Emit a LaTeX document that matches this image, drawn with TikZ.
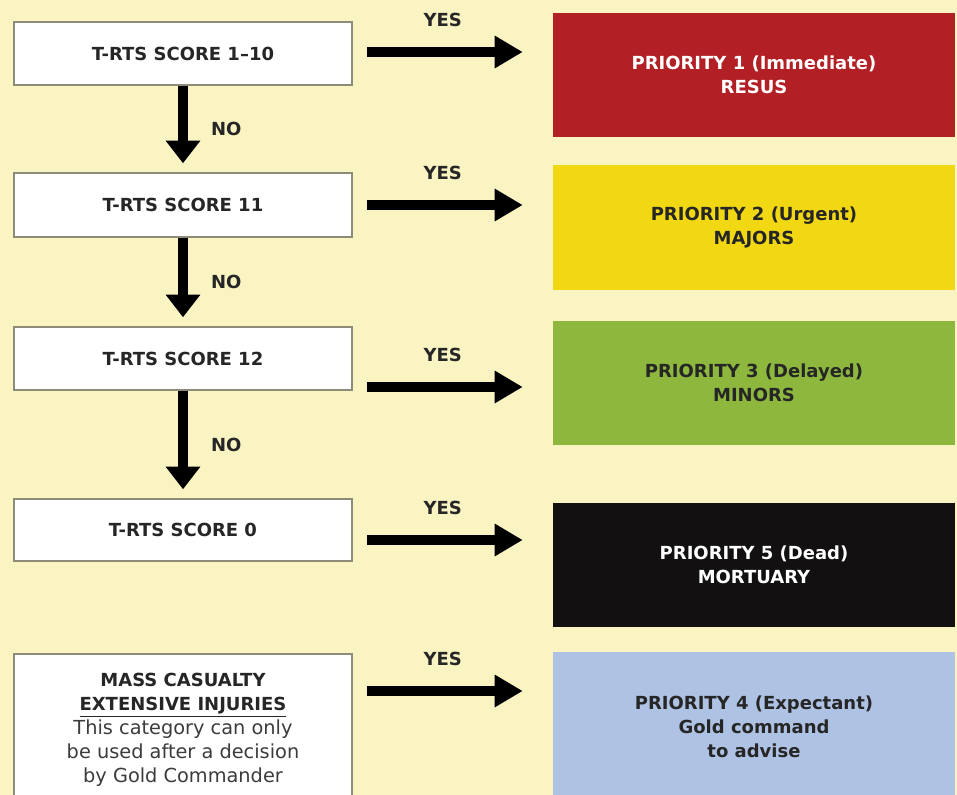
\documentclass[tikz,border=0pt]{standalone}
\usepackage{fontspec}
\setmainfont{DejaVu Sans}
\usetikzlibrary{arrows.meta}

\definecolor{paper}{HTML}{FAF4C3}
\definecolor{boxline}{HTML}{8C8C78}
\definecolor{inkdark}{HTML}{262626}
\definecolor{inkmid}{HTML}{3C3C3C}
\definecolor{resus}{HTML}{B21F24}
\definecolor{majors}{HTML}{F2D813}
\definecolor{minors}{HTML}{8DB83D}
\definecolor{mortuary}{HTML}{121010}
\definecolor{expectant}{HTML}{AEC2E4}

\newcommand{\boldtxt}{\bfseries\fontsize{13.5}{18}\selectfont}
\newcommand{\bodytxt}{\mdseries\fontsize{14.5}{18}\selectfont\color{inkmid}}

\begin{document}
\begin{tikzpicture}[x=0.75pt,y=-0.75pt,
    score/.style={draw=boxline, line width=1.1pt, fill=white, minimum width=253.5pt,
      font=\boldtxt, text=inkdark, align=center},
    prio/.style={minimum width=301.5pt, minimum height=93pt, font=\boldtxt, align=center},
    lbl/.style={font=\boldtxt, text=inkdark},
    yes/.style={line width=7.5pt, -{Triangle[length=21pt,width=23pt]},
      shorten <=11pt, shorten >=22.5pt},
    no/.style={line width=7.5pt, -{Triangle[length=17pt,width=25pt]}, shorten >=6.75pt}]

  \fill[paper] (0,0) rectangle (957,795);
  \useasboundingbox (0,0) rectangle (957,795);

  % left column: the scores
  \node[score, minimum height=47.25pt] (s1) at (183,53.5) {T-RTS SCORE 1--10};
  \node[score, minimum height=48pt] (s2) at (183,205) {T-RTS SCORE 11};
  \node[score, minimum height=47.25pt] (s3) at (183,358.5) {T-RTS SCORE 12};
  \node[score, minimum height=46.5pt] (s4) at (183,530) {T-RTS SCORE 0};
  \node[score, minimum height=114pt] (s5) at (183,730)
    {MASS CASUALTY\\ \underline{EXTENSIVE INJURIES}\\
     \bodytxt This category can only\\ \bodytxt be used after a decision\\
     \bodytxt by Gold Commander};

  % right column: the priorities
  \node[prio, fill=resus, text=white] (p1) at (754,75) {PRIORITY 1 (Immediate)\\RESUS};
  \node[prio, fill=majors, text=inkdark] (p2) at (754,227.5) {PRIORITY 2 (Urgent)\\MAJORS};
  \node[prio, fill=minors, text=inkdark] (p3) at (754,382.5) {PRIORITY 3 (Delayed)\\MINORS};
  \node[prio, fill=mortuary, text=white] (p4) at (754,564.5) {PRIORITY 5 (Dead)\\MORTUARY};
  \node[prio, fill=expectant, text=inkdark, minimum height=112.5pt] (p5) at (754,727)
    {PRIORITY 4 (Expectant)\\Gold command\\to advise};

  % heights of the yes arrows
  \coordinate (y1) at (0,52);
  \coordinate (y2) at (0,205);
  \coordinate (y3) at (0,387);
  \coordinate (y4) at (0,540);
  \coordinate (y5) at (0,691);

  \draw[yes] (s1.east |- y1) -- (p1.west |- y1) node[lbl, pos=.45, above=11.5pt] (l1) {YES};
  \draw[yes] (s2.east |- y2) -- (p2.west |- y2) node[lbl, pos=.45, above=11.5pt] (l2) {YES};
  \draw[yes] (s3.east |- y3) -- (p3.west |- y3) node[lbl, pos=.45, above=11.5pt] (l3) {YES};
  \draw[yes] (s4.east |- y4) -- (p4.west |- y4) node[lbl, pos=.45, above=11.5pt] (l4) {YES};
  \draw[yes] (s5.east |- y5) -- (p5.west |- y5) node[lbl, pos=.45, above=11.5pt] (l5) {YES};

  \draw[no] (s1.south) -- (s2.north) node[lbl, midway, right=14pt] (n1) {NO};
  \draw[no] (s2.south) -- (s3.north) node[lbl, midway, right=14pt] (n2) {NO};
  \draw[no] (s3.south) -- (s4.north) node[lbl, midway, right=14pt] (n3) {NO};
\end{tikzpicture}
\end{document}
